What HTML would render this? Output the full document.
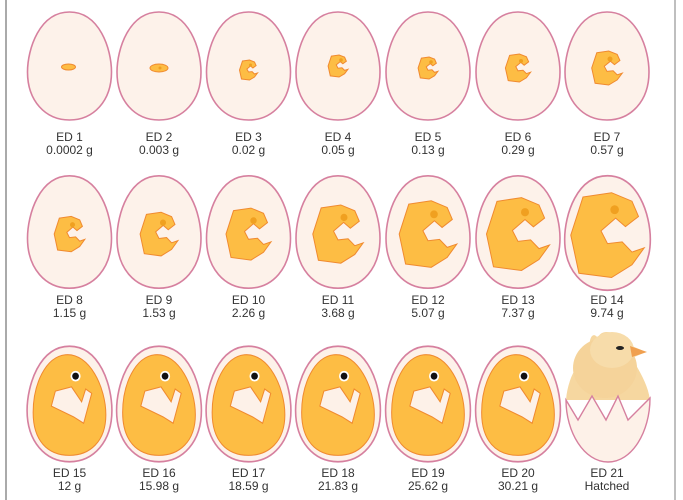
<!DOCTYPE html>
<html><head><meta charset="utf-8"><style>
html,body{margin:0;padding:0;background:#fff;width:683px;height:500px;overflow:hidden}
svg{display:block}
text{font-family:"Liberation Sans",sans-serif;font-size:12px;fill:#333;text-anchor:middle}
</style></head><body>
<svg width="683" height="500" viewBox="0 0 683 500">
<defs>
<path id="egg" d="M0,-54 C30,-54 42,-17 42,6 C42,35 24,54 0,54 C-24,54 -42,35 -42,6 C-42,-17 -30,-54 0,-54 Z" fill="#fdf2ea" stroke="#d6809f" stroke-width="1.6"/>
<path id="emb" d="M-0.3,-0.45 L0.05,-0.5 L0.3,-0.4 L0.38,-0.22 L0.22,-0.1 L0.1,-0.2 L-0.08,-0.05 L0.0,0.1 L0.18,0.08 L0.3,0.2 L0.45,0.15 L0.3,0.35 L0.05,0.5 L-0.35,0.45 L-0.45,0.0 Z" fill="#fdbd44" stroke="#f08a30" stroke-width="1" vector-effect="non-scaling-stroke"/>
<g id="big">
<path d="M-4,-46 C20,-48 36,-15 36,10 C36,35 20,48 0,48 C-22,48 -36,34 -36,8 C-36,-18 -24,-44 -4,-46 Z" fill="#fdbd44" stroke="#f08a30" stroke-width="1"/>
<path d="M-14,-12 L2,-16 L12,-2 L16,-14 L22,-10 L14,18 L4,12 L-18,2 Z" fill="#fdf1e8" stroke="#f08a30" stroke-width="1"/>
<circle cx="6" cy="-26" r="5" fill="#fff"/><circle cx="6" cy="-26" r="3.3" fill="#111"/>
</g>
</defs>
<line x1="6" y1="0" x2="6" y2="500" stroke="#aaa" stroke-width="2"/>
<line x1="675" y1="0" x2="675" y2="500" stroke="#aaa" stroke-width="1.5"/>

<g transform="translate(69.5,66)"><use href="#egg"/><ellipse cx="-1" cy="1" rx="7" ry="3" fill="#fdbd44" stroke="#f08a30" stroke-width="1"/></g>
<g transform="translate(159,66)"><use href="#egg"/><ellipse cx="0" cy="2" rx="9" ry="4" fill="#fdbd44" stroke="#f08a30" stroke-width="1"/><circle cx="1" cy="2" r="1.5" fill="#f0a020"/></g>
<g transform="translate(248.5,66)"><use href="#egg"/><use href="#emb" transform="translate(0,4) scale(20)"/><circle cx="2" cy="-1" r="1.5" fill="#f0a020"/></g>
<g transform="translate(338,66)"><use href="#egg"/><use href="#emb" transform="translate(0,0) scale(22)"/><circle cx="3" cy="-6" r="1.8" fill="#f0a020"/></g>
<g transform="translate(428,66)"><use href="#egg"/><use href="#emb" transform="translate(0,2) scale(22)"/><circle cx="3" cy="-4" r="1.8" fill="#f0a020"/></g>
<g transform="translate(518,66)"><use href="#egg"/><use href="#emb" transform="translate(0,2) scale(28)"/><circle cx="3" cy="-5" r="2" fill="#f0a020"/></g>
<g transform="translate(607,66)"><use href="#egg"/><use href="#emb" transform="translate(0,2) scale(34)"/><circle cx="3" cy="-7" r="2.5" fill="#f0a020"/></g>

<g transform="translate(69.5,232) scale(1,1.04)"><use href="#egg"/><use href="#emb" transform="translate(0,2) scale(34)"/><circle cx="3" cy="-7" r="2.5" fill="#f0a020"/></g>
<g transform="translate(159,232) scale(1,1.04)"><use href="#egg"/><use href="#emb" transform="translate(0,2) scale(42)"/><circle cx="4" cy="-9" r="3" fill="#f0a020"/></g>
<g transform="translate(248.5,232) scale(1,1.04)"><use href="#egg"/><use href="#emb" transform="translate(0,2) scale(50)"/><circle cx="5" cy="-11" r="3.2" fill="#f0a020"/></g>
<g transform="translate(338,232) scale(1,1.04)"><use href="#egg"/><use href="#emb" transform="translate(0,2) scale(56)"/><circle cx="6" cy="-14" r="3.5" fill="#f0a020"/></g>
<g transform="translate(428,232) scale(1,1.04)"><use href="#egg"/><use href="#emb" transform="translate(0,2) scale(64)"/><circle cx="6" cy="-17" r="3.8" fill="#f0a020"/></g>
<g transform="translate(518,232) scale(1,1.04)"><use href="#egg"/><use href="#emb" transform="translate(0,2) scale(70)"/><circle cx="7" cy="-19" r="4" fill="#f0a020"/></g>
<g transform="translate(607.5,233) scale(1.02,1.06)"><use href="#egg"/><use href="#emb" transform="translate(0,2) scale(80)"/><circle cx="7" cy="-22" r="4.2" fill="#f0a020"/></g>

<g transform="translate(69.5,404) scale(1.01,1.07)"><use href="#egg"/><use href="#big"/></g>
<g transform="translate(159,404) scale(1.01,1.07)"><use href="#egg"/><use href="#big"/></g>
<g transform="translate(248.5,404) scale(1.01,1.07)"><use href="#egg"/><use href="#big"/></g>
<g transform="translate(338,404) scale(1.01,1.07)"><use href="#egg"/><use href="#big"/></g>
<g transform="translate(428,404) scale(1.01,1.07)"><use href="#egg"/><use href="#big"/></g>
<g transform="translate(518,404) scale(1.01,1.07)"><use href="#egg"/><use href="#big"/></g>
<g>
<path d="M566,400 C568,375 580,360 590,352 C588,340 592,330 598,338 C600,330 612,330 620,338 L632,346 L646,352 L632,358 C640,372 648,385 650,400 Z" fill="#f6d7a0"/>
<ellipse cx="605" cy="368" rx="32" ry="30" fill="#f5d39a"/>
<ellipse cx="612" cy="350" rx="22" ry="18" fill="#f7dcaa"/>
<ellipse cx="620" cy="348" rx="4" ry="2" fill="#222"/>
<path d="M630,346 L647,352 L632,357 Z" fill="#f0a050"/>
<path d="M566,400 L578,420 L592,396 L606,420 L618,396 L628,420 L650,398 C650,432 632,462 608,462 C584,462 566,432 566,400 Z" fill="#fdf1e8" stroke="#d6809f" stroke-width="1.4"/>
</g>

<text x="69.5" y="141">ED 1</text><text x="69.5" y="154">0.0002 g</text>
<text x="159" y="141">ED 2</text><text x="159" y="154">0.003 g</text>
<text x="248.5" y="141">ED 3</text><text x="248.5" y="154">0.02 g</text>
<text x="338" y="141">ED 4</text><text x="338" y="154">0.05 g</text>
<text x="428" y="141">ED 5</text><text x="428" y="154">0.13 g</text>
<text x="518" y="141">ED 6</text><text x="518" y="154">0.29 g</text>
<text x="607" y="141">ED 7</text><text x="607" y="154">0.57 g</text>

<text x="69.5" y="304">ED 8</text><text x="69.5" y="317">1.15 g</text>
<text x="159" y="304">ED 9</text><text x="159" y="317">1.53 g</text>
<text x="248.5" y="304">ED 10</text><text x="248.5" y="317">2.26 g</text>
<text x="338" y="304">ED 11</text><text x="338" y="317">3.68 g</text>
<text x="428" y="304">ED 12</text><text x="428" y="317">5.07 g</text>
<text x="518" y="304">ED 13</text><text x="518" y="317">7.37 g</text>
<text x="607" y="304">ED 14</text><text x="607" y="317">9.74 g</text>

<text x="69.5" y="477">ED 15</text><text x="69.5" y="490">12 g</text>
<text x="159" y="477">ED 16</text><text x="159" y="490">15.98 g</text>
<text x="248.5" y="477">ED 17</text><text x="248.5" y="490">18.59 g</text>
<text x="338" y="477">ED 18</text><text x="338" y="490">21.83 g</text>
<text x="428" y="477">ED 19</text><text x="428" y="490">25.62 g</text>
<text x="518" y="477">ED 20</text><text x="518" y="490">30.21 g</text>
<text x="607" y="477">ED 21</text><text x="607" y="490">Hatched</text>
</svg>
</body></html>
